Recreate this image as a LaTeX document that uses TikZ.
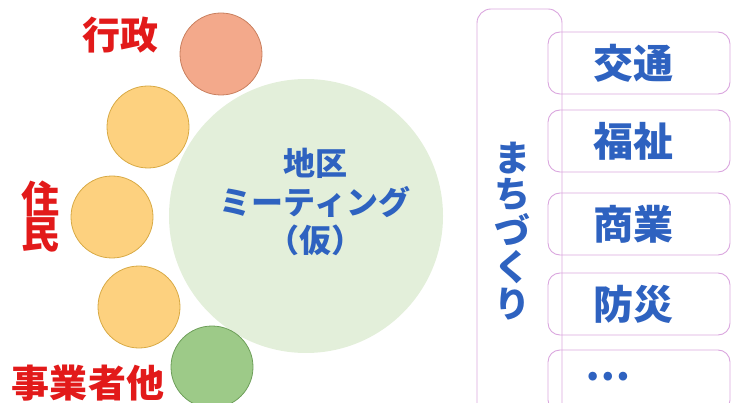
\documentclass[tikz,border=0pt]{standalone}
\usepackage{fontspec}
\newfontfamily\jp{Noto Sans CJK JP}
\definecolor{bigc}{HTML}{E3EFDA}
\definecolor{redfill}{HTML}{F3A98B}
\definecolor{reddraw}{HTML}{C9805F}
\definecolor{yelfill}{HTML}{FDD17F}
\definecolor{yeldraw}{HTML}{D8AA45}
\definecolor{grnfill}{HTML}{9DCA88}
\definecolor{grndraw}{HTML}{6E9F5A}
\definecolor{txtblue}{HTML}{2E62C0}
\definecolor{txtred}{HTML}{E21A1A}
\definecolor{boxline}{HTML}{DAA6DE}
\begin{document}
\begin{tikzpicture}[x=1pt,y=-1pt,
  member/.style={circle, minimum size=82pt, inner sep=0pt, line width=0.8pt},
  redlabel/.style={text=txtred, inner sep=0pt, align=center, font=\jp\bfseries\fontsize{38}{35}\selectfont},
  bluelabel/.style={text=txtblue, inner sep=0pt, align=center, font=\jp\bfseries\fontsize{40}{40}\selectfont},
  topicbox/.style={draw=boxline, line width=0.9pt, rounded corners=12pt, minimum width=182pt, minimum height=62pt, inner sep=0pt}]
\useasboundingbox (0,0) rectangle (738,403);
% central meeting circle
\node[circle, fill=bigc, minimum size=274pt, inner sep=0pt] (meet) at (306,216) {};
\node[text=txtblue, inner sep=0pt, align=center, font=\jp\bfseries\fontsize{32}{38.5}\selectfont] (meettext) at (315,202) {地区\\ミーティング\\（仮）};
% member circles
\node[member, fill=redfill, draw=reddraw] (gyosei) at (221,54) {};
\node[member, fill=yelfill, draw=yeldraw] (y1) at (148,127) {};
\node[member, fill=yelfill, draw=yeldraw] (y2) at (112,217) {};
\node[member, fill=yelfill, draw=yeldraw] (y3) at (139,307) {};
\node[member, fill=grnfill, draw=grndraw] (jigyo) at (212,367) {};
% labels
\node[redlabel] (lgyosei) at (120,35) {行政};
\node[redlabel] (ljumin) at (40,217) {住\\民};
\node[redlabel] (ljigyo) at (88,383) {事業者他};
% right side
\node[draw=boxline, line width=0.9pt, rounded corners=14pt, minimum width=85pt, minimum height=430pt, inner sep=0pt] (machi) at (519.5,224) {};
\node[text=txtblue, inner sep=0pt, align=center, font=\jp\bfseries\fontsize{36}{36.5}\selectfont] (machitext) at (512,231) {ま\\ち\\づ\\く\\り};
\node[topicbox] (b1) at (639,63) {};
\node[topicbox] (b2) at (639,141) {};
\node[topicbox] (b3) at (639,224) {};
\node[topicbox] (b4) at (639,304) {};
\node[topicbox] (b5) at (639,381) {};
\node[bluelabel] (t1) at (633,63) {交通};
\node[bluelabel] (t2) at (633,141) {福祉};
\node[bluelabel] (t3) at (633,224) {商業};
\node[bluelabel] (t4) at (633,304) {防災};
\node[bluelabel] (t5) at (608,377) {…};
\end{tikzpicture}
\end{document}
